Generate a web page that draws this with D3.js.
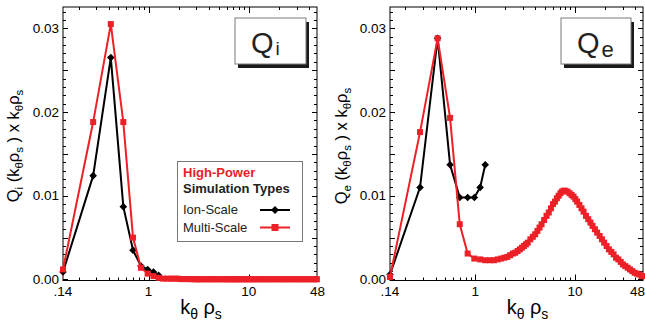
<!DOCTYPE html>
<html>
<head>
<meta charset="utf-8">
<script src="https://cdnjs.cloudflare.com/ajax/libs/d3/7.8.5/d3.min.js"></script>
<style>
    body { margin: 0; background: #fff; }
    svg { display: block; font-family: "Liberation Sans", Arial, sans-serif; }
</style>
</head>
<body>
<svg class="flux_chart" width="645" height="329"></svg>
<script>
// ion-scale run (black)
var ionK  = [0.14, 0.28, 0.42, 0.56, 0.70, 0.84, 0.98, 1.12, 1.26];
var ionQi = [0.0009, 0.0124, 0.0265, 0.0087, 0.0035, 0.0016, 0.0012, 0.0009, 0.0005];
var ionQe = [0.0006, 0.0110, 0.0288, 0.0137, 0.0098, 0.0098, 0.0098, 0.0110, 0.0137];

// multi-scale run (red)
var multiK = [0.14, 0.28, 0.42, 0.56, 0.70, 0.84, 0.98, 1.12, 1.26, 1.40,
    1.54, 1.68, 1.82, 1.96, 2.10, 2.24, 2.38,
    2.52, 2.66, 2.80, 2.94, 3.08, 3.22, 3.36, 3.57, 3.78, 3.99,
    4.20, 4.41, 4.62, 4.90, 5.18, 5.46, 5.74, 6.02, 6.30, 6.58,
    6.86, 7.14, 7.42, 7.70, 7.98, 8.40, 8.82, 9.24, 9.66, 10.08,
    10.50, 11.06, 11.62, 12.18, 12.88, 13.58, 14.28, 14.98, 15.82, 16.66,
    17.64, 18.62, 19.60, 20.72, 21.84, 23.10, 24.36, 25.76, 27.16, 28.70,
    30.24, 31.92, 33.74, 35.56, 37.52, 39.62, 41.86, 44.10, 46.48, 47.88];
var multiQi = [0.0012, 0.0188, 0.0305, 0.0188, 0.0050, 0.0014, 0.0007, 0.0004, 0.0002, 0.0001,
    0.0001, 0.0001, 0.0001, 0.0001, 0.00005, 0.00005, 0.00005,
    0.00005, 0.00004, 0.00004, 0.00003, 0.00003, 0.00003, 0.00003, 0.00003, 0.00003, 0.00003,
    0.00003, 0.00003, 0.00003, 0.00003, 0.00003, 0.00003, 0.00003, 0.00003, 0.00003, 0.00003,
    0.00003, 0.00003, 0.00003, 0.00003, 0.00003, 0.00003, 0.00003, 0.00003, 0.00003, 0.00003,
    0.00003, 0.00003, 0.00003, 0.00003, 0.00003, 0.00003, 0.00003, 0.00003, 0.00003, 0.00003,
    0.00003, 0.00003, 0.00003, 0.00003, 0.00003, 0.00003, 0.00003, 0.00003, 0.00003, 0.00003,
    0.00003, 0.00003, 0.00003, 0.00003, 0.00003, 0.00003, 0.00003, 0.00003, 0.00003, 0.00003];
var multiQe = [0.0003, 0.0176, 0.0288, 0.0193, 0.0066, 0.0031, 0.0025, 0.0024, 0.0023, 0.0023,
    0.0023, 0.0024, 0.0025, 0.0026, 0.0027, 0.0029, 0.0031,
    0.0032, 0.0034, 0.0036, 0.0038, 0.0040, 0.0042, 0.0044, 0.0048, 0.0051, 0.0054,
    0.0058, 0.0062, 0.0066, 0.0071, 0.0076, 0.0080, 0.0085, 0.0090, 0.0093, 0.0097,
    0.0100, 0.0103, 0.0105, 0.0106, 0.0106, 0.0105, 0.0103, 0.0101, 0.0099, 0.0096,
    0.0093, 0.0089, 0.0085, 0.0081, 0.0076, 0.0072, 0.0068, 0.0064, 0.0060, 0.0056,
    0.0052, 0.0048, 0.0044, 0.0040, 0.0036, 0.0033, 0.0030, 0.0026, 0.0024, 0.0021,
    0.0018, 0.0016, 0.0014, 0.0012, 0.0010, 0.0008, 0.0007, 0.0006, 0.0004, 0.0004];

var xTickVals = [0.14, 1, 10, 48];
var xTickLabels = [".14", "1", "10", "48"];
var yTickVals = [0, 0.01, 0.02, 0.03];

var RED = "#ec2027";

var svg = d3.select(".flux_chart");

var plotTop = 7, plotBottom = 280.5;
var yScale = d3.scaleLinear().domain([-0.00012, 0.03254]).range([plotBottom, plotTop]);

function toPoints(ks, vs) {
    return ks.map(function (k, i) { return { k: k, v: vs[i] }; });
}

// text with subscripts: parts = [[text, isSub], ...]
function richText(sel, parts, size, subSize, subDy) {
    var shifted = false;
    parts.forEach(function (p) {
        var t = sel.append("tspan").text(p[0]);
        if (p[1]) {
            t.attr("font-size", subSize);
            if (!shifted) { t.attr("dy", subDy); shifted = true; }
        } else {
            t.attr("font-size", size);
            if (shifted) { t.attr("dy", -subDy); shifted = false; }
        }
    });
}

function diamondPath(cx, cy, r) {
    return "M" + cx + "," + (cy - r) + "L" + (cx + r) + "," + cy + "L" + cx + "," + (cy + r) + "L" + (cx - r) + "," + cy + "Z";
}

function drawPanel(opt) {
    var xScale = d3.scaleLog().domain([0.14, 48]).range([opt.left, opt.right]);
    var g = svg.append("g");

    // frame
    g.append("rect")
        .attr("x", opt.left).attr("y", plotTop)
        .attr("width", opt.right - opt.left).attr("height", plotBottom - plotTop)
        .attr("fill", "none").attr("stroke", "#000").attr("stroke-width", 1);

    // x ticks, log minor + major, bottom and top, pointing inwards
    xScale.ticks().forEach(function (t) {
        var major = Math.abs(Math.log10(t) - Math.round(Math.log10(t))) < 1e-9;
        var len = major ? 6 : 3;
        var px = Math.round(xScale(t)) + 0.5;
        g.append("line").attr("x1", px).attr("x2", px)
            .attr("y1", plotBottom).attr("y2", plotBottom - len)
            .attr("stroke", "#000");
        g.append("line").attr("x1", px).attr("x2", px)
            .attr("y1", plotTop).attr("y2", plotTop + len)
            .attr("stroke", "#000");
    });

    // y ticks every 0.001, longer every 0.005
    d3.range(0, 33).forEach(function (i) {
        var py = Math.round(yScale(i * 0.001)) + 0.5;
        var len = (i % 5 === 0) ? 5 : 3;
        g.append("line").attr("x1", opt.left).attr("x2", opt.left + len)
            .attr("y1", py).attr("y2", py).attr("stroke", "#000");
        g.append("line").attr("x1", opt.right).attr("x2", opt.right - len)
            .attr("y1", py).attr("y2", py).attr("stroke", "#000");
    });

    // tick labels
    g.selectAll(".ylab").data(yTickVals).enter().append("text")
        .attr("x", opt.left - 4)
        .attr("y", function (d) { return yScale(d) + 4.5; })
        .attr("text-anchor", "end")
        .attr("font-size", 13.5)
        .text(function (d) { return d3.format(".2f")(d); });

    var last = xTickVals.length - 1;
    g.selectAll(".xlab").data(xTickVals).enter().append("text")
        .attr("x", function (d, i) { return i === last ? Math.min(xScale(d) + 8, 645) : xScale(d); })
        .attr("y", 296)
        .attr("text-anchor", function (d, i) { return i === last ? "end" : "middle"; })
        .attr("font-size", 13.5)
        .text(function (d, i) { return xTickLabels[i]; });

    // axis titles
    var xt = g.append("text")
        .attr("x", (opt.left + opt.right) / 2 + 11)
        .attr("y", 314)
        .attr("text-anchor", "middle");
    richText(xt, [["k", false], ["\u03b8", true], [" \u03c1", false], ["s", true]], 20, 14, 5);

    var yt = g.append("text")
        .attr("transform", "translate(" + opt.ytitleX + ",146) rotate(-90)")
        .attr("text-anchor", "middle");
    richText(yt, [["Q", false], [opt.sub, true], [" (k", false], ["\u03b8", true], ["\u03c1", false], ["s", true],
        [" ) x k", false], ["\u03b8", true], ["\u03c1", false], ["s", true]], 16.5, 11.5, 4);

    // series
    var line = d3.line()
        .x(function (d) { return xScale(d.k); })
        .y(function (d) { return yScale(d.v); });

    var ion = toPoints(ionK, opt.ion);
    var multi = toPoints(multiK, opt.multi);

    g.append("path").datum(ion)
        .attr("d", line).attr("fill", "none")
        .attr("stroke", "#000").attr("stroke-width", 2);
    g.selectAll(".ionPt").data(ion).enter().append("path")
        .attr("d", function (d) { return diamondPath(xScale(d.k), yScale(d.v), 3.8); })
        .attr("fill", "#000");

    g.append("path").datum(multi)
        .attr("d", line).attr("fill", "none")
        .attr("stroke", RED).attr("stroke-width", 2);
    g.selectAll(".multiPt").data(multi).enter().append("rect")
        .attr("x", function (d) { return xScale(d.k) - 3; })
        .attr("y", function (d) { return yScale(d.v) - 3; })
        .attr("width", 6).attr("height", 6)
        .attr("fill", RED);

    // label box with drop shadow
    var b = opt.box;
    g.append("rect").attr("x", b.x + 3).attr("y", b.y + 4)
        .attr("width", b.w).attr("height", b.h).attr("fill", "#1a1a1a");
    g.append("rect").attr("x", b.x).attr("y", b.y)
        .attr("width", b.w).attr("height", b.h)
        .attr("fill", "#fff").attr("stroke", "#7a7a7a").attr("stroke-width", 1);
    var bt = g.append("text")
        .attr("x", b.tx).attr("y", b.y + 35)
        .attr("fill", "#222");
    bt.append("tspan").attr("font-size", 29).text("Q");
    bt.append("tspan").attr("font-size", b.subSize).attr("dx", 2).attr("dy", b.subDy).text(opt.sub);

    return xScale;
}

drawPanel({
    left: 63, right: 317, ytitleX: 19, sub: "i",
    ion: ionQi, multi: multiQi,
    box: { x: 235, y: 18, w: 71, h: 46, tx: 251, subSize: 19, subDy: 2 }
});

drawPanel({
    left: 390, right: 643, ytitleX: 347, sub: "e",
    ion: ionQe, multi: multiQe,
    box: { x: 561, y: 18, w: 70, h: 46, tx: 577, subSize: 22, subDy: 4 }
});

// legend (left panel)
var legend = svg.append("g");
legend.append("rect")
    .attr("x", 177.5).attr("y", 161.5).attr("width", 125).attr("height", 80)
    .attr("fill", "#fff").attr("stroke", "#777").attr("stroke-width", 1);
legend.append("text").attr("x", 183).attr("y", 176.5)
    .attr("font-size", 13).attr("font-weight", "bold").attr("fill", RED)
    .text("High-Power");
legend.append("text").attr("x", 183).attr("y", 193)
    .attr("font-size", 13).attr("font-weight", "bold").attr("fill", "#222")
    .text("Simulation Types");
legend.append("text").attr("x", 183).attr("y", 214)
    .attr("font-size", 13).attr("fill", "#222")
    .text("Ion-Scale");
legend.append("text").attr("x", 183).attr("y", 231.5)
    .attr("font-size", 13).attr("fill", "#222")
    .text("Multi-Scale");
legend.append("line").attr("x1", 260).attr("x2", 290).attr("y1", 210).attr("y2", 210)
    .attr("stroke", "#000").attr("stroke-width", 2);
legend.append("path").attr("d", diamondPath(275, 210, 4)).attr("fill", "#000");
legend.append("line").attr("x1", 260).attr("x2", 290).attr("y1", 227.5).attr("y2", 227.5)
    .attr("stroke", RED).attr("stroke-width", 2);
legend.append("rect").attr("x", 271.5).attr("y", 224).attr("width", 7).attr("height", 7).attr("fill", RED);
</script>
</body>
</html>
